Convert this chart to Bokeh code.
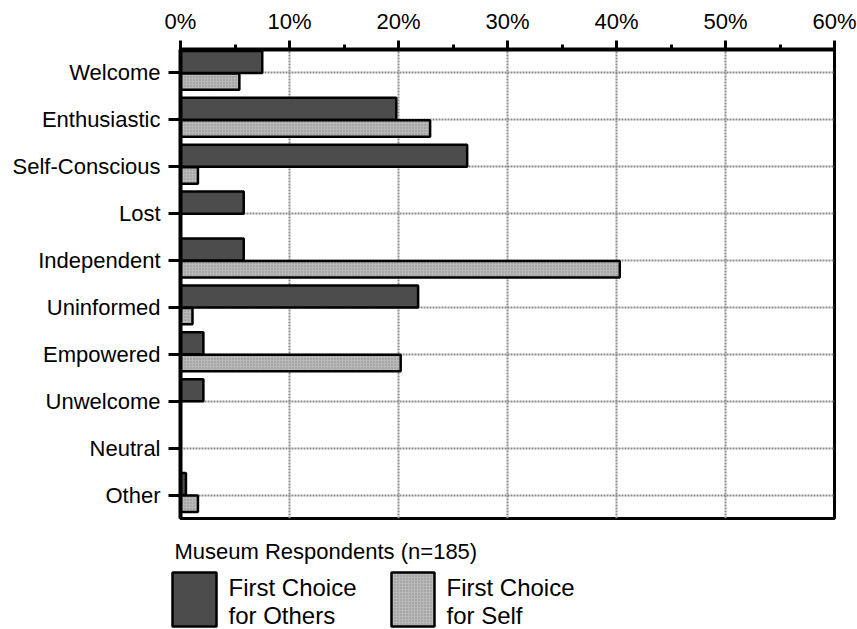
from bokeh.plotting import figure
from bokeh.models import ColumnDataSource, FactorRange, Range1d, FixedTicker
from bokeh.transform import dodge
from bokeh.layouts import column
from bokeh.embed import file_html
from bokeh.resources import INLINE
from bokeh.core.properties import value

# ---- data ----
categories = ["Welcome", "Enthusiastic", "Self-Conscious", "Lost", "Independent",
              "Uninformed", "Empowered", "Unwelcome", "Neutral", "Other"]
first_choice_others = [7.5, 19.8, 26.3, 5.8, 5.8, 21.8, 2.1, 2.1, 0.0, 0.5]
first_choice_self = [5.4, 22.9, 1.6, 0.0, 40.3, 1.1, 20.2, 0.0, 0.0, 1.6]
x_ticks = [0, 10, 20, 30, 40, 50, 60]
x_tick_labels = ["0%", "10%", "20%", "30%", "40%", "50%", "60%"]
legend_title = "Museum Respondents (n=185)"
legend_labels = [["First Choice", "for Others"], ["First Choice", "for Self"]]

FONT = "Liberation Sans"
DARK = "#4c4c4c"
LIGHT = "#b9b9b9"

src = ColumnDataSource(dict(cat=categories, others=first_choice_others, self=first_choice_self))

p = figure(width=857, height=529, x_range=Range1d(0, 60),
           y_range=FactorRange(factors=categories[::-1]),
           x_axis_location="above", toolbar_location=None, output_backend="svg",
           min_border_left=180, min_border_right=23, min_border_top=49, min_border_bottom=11)
p.frame_align = False

p.hbar(y=dodge("cat", 0.235, range=p.y_range), right="others", left=0, height=0.47,
       source=src, fill_color=DARK, line_color="black", line_width=2.5)
p.hbar(y=dodge("cat", -0.185, range=p.y_range), right="self", left=0, height=0.35,
       source=src, fill_color=LIGHT, line_color="black", line_width=2.5,
       hatch_pattern="dot", hatch_color="#8a8a8a", hatch_scale=3, hatch_weight=1)

xa = p.xaxis[0]
xa.ticker = FixedTicker(ticks=x_ticks, minor_ticks=[5, 15, 25, 35, 45, 55])
xa.major_label_overrides = {t: l for t, l in zip(x_ticks, x_tick_labels)}
xa.major_tick_out = 9
xa.major_tick_in = 0
xa.minor_tick_out = 5
xa.minor_tick_in = 0
xa.axis_line_width = 4
xa.major_tick_line_width = 3
xa.minor_tick_line_width = 3
xa.major_label_text_font = FONT
xa.major_label_text_font_size = "22px"
xa.major_label_text_color = "black"
xa.major_label_standoff = 7

ya = p.yaxis[0]
ya.major_tick_out = 12
ya.major_tick_in = 0
ya.minor_tick_out = 0
ya.axis_line_width = 4
ya.major_tick_line_width = 3
ya.major_label_text_font = FONT
ya.major_label_text_font_size = "22px"
ya.major_label_text_color = "black"
ya.major_label_standoff = 8

p.xgrid.grid_line_color = "#8c8c8c"
p.xgrid.grid_line_width = 2
p.xgrid.grid_line_dash = "2 1"
p.ygrid.grid_line_color = "#8c8c8c"
p.ygrid.grid_line_width = 2
p.ygrid.grid_line_dash = "2 1"

p.outline_line_color = "black"
p.outline_line_width = 3
p.outline_line_alpha = 1.0

# ---- legend panel ----
lg = figure(width=857, height=100, x_range=Range1d(0, 857), y_range=Range1d(100, 0),
            toolbar_location=None, output_backend="svg", min_border=0)
lg.frame_align = False
lg.axis.visible = False
lg.grid.visible = False
lg.outline_line_color = None

lg.text(x=[174], y=[22], text=[legend_title], text_font=value(FONT), text_font_size="22px",
        text_baseline="middle", text_align="left", text_color="black")
lg.quad(left=[172], right=[216], top=[43], bottom=[97], fill_color=DARK,
        line_color="black", line_width=2.5)
lg.quad(left=[391], right=[434], top=[43], bottom=[97], fill_color=LIGHT,
        line_color="black", line_width=2.5, hatch_pattern="dot", hatch_color="#8a8a8a",
        hatch_scale=3, hatch_weight=1)
for x0, lines in zip([228, 446], legend_labels):
    lg.text(x=[x0, x0], y=[58, 86], text=lines, text_font=value(FONT), text_font_size="24px",
            text_baseline="middle", text_align="left", text_color="black")

layout = column(p, lg, spacing=0)
open("out.html", "w").write(file_html(layout, INLINE))
